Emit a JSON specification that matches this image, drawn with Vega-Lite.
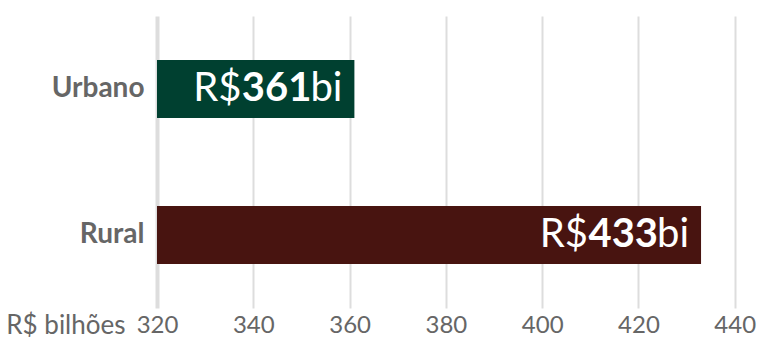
{
  "$schema": "https://vega.github.io/schema/vega-lite/v6.json",
  "width": 597,
  "height": 292,
  "autosize": "none",
  "padding": {"left": 157, "top": 16, "right": 4, "bottom": 32},
  "config": {"view": {"stroke": null}, "font": "Lato"},
  "data": {"values": [
    {"area": "Urbano", "valor": 361},
    {"area": "Rural", "valor": 433}
  ]},
  "encoding": {
    "y": {
      "field": "area", "type": "nominal", "sort": ["Urbano", "Rural"],
      "scale": {"paddingInner": 0.603, "paddingOuter": 0.3015},
      "axis": {"title": null, "domain": false, "ticks": false, "grid": false, "labelFont": "Lato", "labelFontWeight": "bold", "labelFontSize": 28, "labelColor": "#666666", "labelPadding": 13}
    }
  },
  "layer": [
    {
      "mark": {"type": "bar"},
      "encoding": {
        "x": {
          "field": "valor", "type": "quantitative",
          "scale": {"domain": [320, 444], "zero": false, "nice": false},
          "axis": {
            "values": [320, 340, 360, 380, 400, 420, 440],
            "domain": false, "ticks": false, "labelFlush": false,
            "gridColor": "#dddddd",
            "gridWidth": {"condition": {"test": "datum.value === 320", "value": 4}, "value": 2},
            "labelFont": "Lato", "labelFontSize": 24, "labelColor": "#666666", "labelPadding": 5,
            "title": "R$ bilhões", "titleFont": "Lato", "titleFontSize": 26, "titleFontWeight": "normal", "titleColor": "#666666",
            "titleAnchor": null, "titleAlign": "right", "titleBaseline": "top", "titleX": -32, "titleY": 4, "titlePadding": 0
          }
        },
        "x2": {"datum": 320},
        "color": {"field": "area", "type": "nominal", "scale": {"domain": ["Urbano", "Rural"], "range": ["#004030", "#481410"]}, "legend": null}
      }
    },
    {
      "mark": {"type": "text", "align": "right", "baseline": "middle", "dx": -12, "fontSize": 40, "font": "Lato", "color": "white"},
      "encoding": {"x": {"field": "valor", "type": "quantitative"}, "text": {"value": "bi"}}
    },
    {
      "mark": {"type": "text", "align": "right", "baseline": "middle", "dx": -43, "fontSize": 40, "font": "Lato", "fontWeight": "bold", "color": "white"},
      "encoding": {"x": {"field": "valor", "type": "quantitative"}, "text": {"field": "valor", "type": "quantitative"}}
    },
    {
      "mark": {"type": "text", "align": "right", "baseline": "middle", "dx": -113, "fontSize": 40, "font": "Lato", "color": "white"},
      "encoding": {"x": {"field": "valor", "type": "quantitative"}, "text": {"value": "R$"}}
    }
  ]
}
